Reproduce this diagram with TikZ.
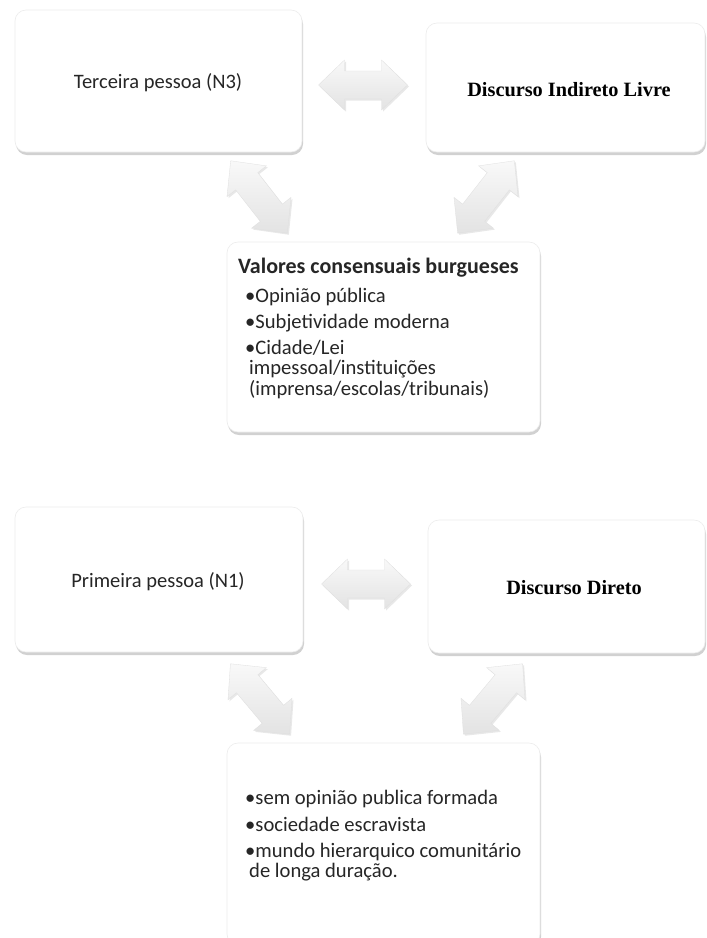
\documentclass[tikz,border=0pt]{standalone}
\usepackage{fontspec}
\setmainfont{Carlito}
\newfontfamily\timesfont{Liberation Serif}
\usetikzlibrary{shadows}
\tikzset{
  boxshape/.style={draw=gray!15, line width=0.6pt, fill=white, rounded corners=11pt,
    drop shadow={shadow xshift=1pt, shadow yshift=-3pt, fill=gray!80, opacity=0.45}},
  arrowshape/.style={top color=gray!5, bottom color=gray!22, draw=gray!25, line width=0.3pt,
    drop shadow={shadow xshift=1.5pt, shadow yshift=-1.5pt, opacity=0.18}},
  labelsans/.style={font=\fontsize{20.5}{24}\selectfont, text=black!85, inner sep=0pt},
  labelserif/.style={font=\timesfont\bfseries\fontsize{20.3}{24}\selectfont, inner sep=0pt},
  listtext/.style={font=\fontsize{20.6}{20.5}\selectfont, align=left, inner sep=0pt, anchor=north west, text=black!85}
}
\newcommand\dblarrow[4]{%
  \begin{scope}[shift={(#1,#2)}, rotate=#3]
   \path[arrowshape] (-#4,0) -- (-#4+26,25) -- (-#4+26,14) -- (#4-26,14) -- (#4-26,25) -- (#4,0)
     -- (#4-26,-25) -- (#4-26,-14) -- (-#4+26,-14) -- (-#4+26,-25) -- cycle;
  \end{scope}}
\begin{document}
\begin{tikzpicture}[x=1pt,y=-1pt]
\useasboundingbox[fill=white] (0,0) rectangle (707,938);

% ---------- upper group ----------
\path[boxshape] (15,10) rectangle (302,152);
\node[labelsans] (t3) at (158,83) {Terceira pessoa (N3)};
\path[boxshape] (426,23) rectangle (705,152);
\node[labelserif] (dil) at (569,90) {Discurso Indireto Livre};
\dblarrow{363}{85}{0}{44.5}
\dblarrow{259}{197}{-52}{46}
\dblarrow{486}{197}{52}{46}
\path[boxshape] (227,242) rectangle (540,432);
\node[listtext] (val) at (238,258) {{\bfseries\fontsize{22}{20}\selectfont Valores consensuais burgueses}\\[8.5pt]
\hspace*{7pt}•Opinião pública\\[5.5pt]
\hspace*{7pt}•Subjetividade moderna\\[5pt]
\hspace*{7pt}•Cidade/Lei\\
\hspace*{11pt}impessoal/instituições\\
\hspace*{11pt}(imprensa/escolas/tribunais)};

% ---------- lower group ----------
\path[boxshape] (15,507) rectangle (303,652);
\node[labelsans] (p1) at (158,582) {Primeira pessoa (N1)};
\path[boxshape] (428,520) rectangle (705,653);
\node[labelserif] (dd) at (574,588) {Discurso Direto};
\dblarrow{366}{584}{0}{44.5}
\dblarrow{260}{699}{-50}{46}
\dblarrow{493}{699}{50}{46}
\path[boxshape] (227,743) rectangle (540,945);
\node[listtext] (sem) at (245,790) {•sem opinião publica formada\\[6.5pt]
•sociedade escravista\\[5pt]
•mundo hierarquico comunitário\\
\hspace*{4pt}de longa duração.};
\end{tikzpicture}
\end{document}
